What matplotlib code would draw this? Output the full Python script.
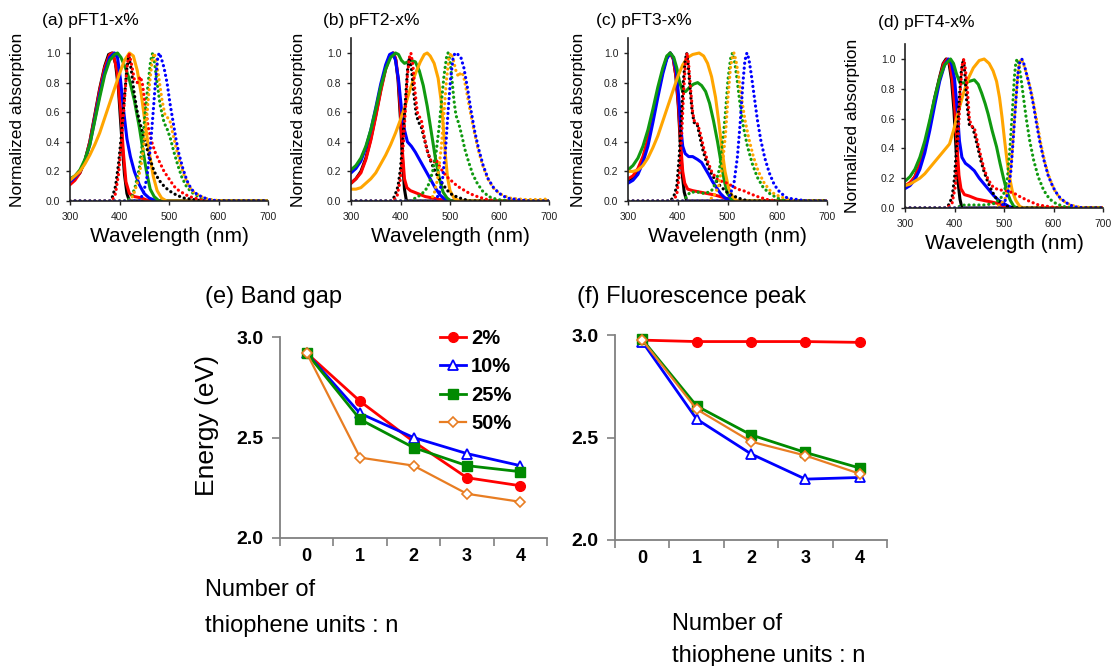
import matplotlib
matplotlib.use("Agg")
import matplotlib.pyplot as plt

plt.rcParams['font.family'] = ['Liberation Sans', 'DejaVu Sans']

# ---------------- spectra (wavelength nm, normalized value) ----------------
# (a) pFT1-x%
a_abs_black = [(300, .12), (310, .15), (320, .19), (330, .27), (340, .4), (350, .58), (360, .76), (370, .91), (378, .99), (385, 1.0), (392, .93), (398, .75), (404, .45), (410, .18), (415, .05), (420, 0), (700, 0)]
a_abs_red = [(300, .11), (310, .14), (320, .19), (330, .27), (340, .4), (350, .57), (360, .75), (370, .9), (380, .99), (387, 1.0), (395, .88), (402, .62), (408, .32), (413, .13), (420, .05), (430, .03), (445, .02), (460, 0), (700, 0)]
a_abs_blue = [(300, .13), (310, .16), (320, .2), (330, .27), (340, .38), (350, .55), (360, .72), (370, .87), (380, .97), (390, 1.0), (396, .97), (402, .82), (408, .62), (415, .42), (422, .3), (430, .2), (440, .11), (450, .05), (460, .02), (475, 0), (700, 0)]
a_abs_green = [(300, .15), (310, .17), (320, .21), (330, .28), (340, .38), (350, .54), (360, .7), (370, .85), (380, .95), (390, .99), (396, 1.0), (403, .97), (412, .9), (420, .82), (430, .68), (440, .5), (448, .33), (455, .19), (462, .08), (470, .03), (480, 0), (700, 0)]
a_abs_orange = [(300, .14), (310, .17), (320, .2), (330, .25), (340, .31), (350, .38), (360, .46), (370, .56), (380, .66), (390, .76), (400, .86), (410, .95), (420, 1.0), (428, .98), (436, .88), (444, .72), (452, .52), (460, .33), (468, .17), (476, .07), (485, .02), (495, 0), (700, 0)]
a_fl_black = [(300, 0), (380, 0), (386, .03), (392, .1), (398, .25), (404, .45), (410, .7), (415, .9), (419, .98), (424, .88), (430, .72), (436, .6), (442, .52), (450, .42), (460, .3), (470, .2), (480, .14), (490, .1), (500, .07), (515, .04), (530, .02), (550, .01), (570, 0), (700, 0)]
a_fl_red = [(300, 0), (385, 0), (392, .05), (398, .18), (404, .4), (410, .68), (415, .9), (419, 1.0), (424, .93), (430, .82), (436, .8), (442, .84), (446, .8), (452, .65), (458, .5), (465, .4), (472, .33), (480, .27), (490, .2), (500, .15), (510, .1), (520, .07), (535, .04), (550, .02), (570, .01), (600, 0), (700, 0)]
a_fl_green = [(300, 0), (415, 0), (425, .03), (432, .1), (440, .22), (446, .38), (452, .6), (458, .8), (463, .95), (467, 1.0), (471, .93), (476, .8), (482, .65), (490, .53), (497, .48), (503, .42), (510, .33), (518, .24), (526, .16), (535, .1), (545, .06), (560, .03), (580, .01), (600, 0), (700, 0)]
a_fl_orange = [(300, 0), (420, 0), (428, .04), (436, .12), (444, .25), (450, .4), (456, .6), (461, .8), (466, .95), (470, 1.0), (474, .95), (480, .82), (486, .68), (492, .58), (498, .56), (503, .53), (508, .45), (515, .35), (522, .26), (530, .18), (540, .1), (550, .06), (565, .03), (580, .01), (610, 0), (700, 0)]
a_fl_blue = [(300, 0), (440, 0), (448, .05), (455, .15), (462, .35), (468, .6), (473, .82), (477, .96), (480, 1.0), (484, .97), (490, .9), (496, .8), (502, .66), (508, .54), (514, .42), (520, .32), (528, .22), (536, .14), (545, .08), (555, .05), (565, .03), (580, .01), (600, 0), (700, 0)]

# (b) pFT2-x%
b_abs_black = [(300, .12), (310, .15), (320, .2), (330, .29), (340, .42), (350, .58), (360, .75), (370, .9), (378, .98), (385, 1.0), (390, .96), (395, .82), (400, .55), (404, .28), (408, .08), (412, 0), (700, 0)]
b_abs_red = [(300, .12), (310, .15), (320, .19), (330, .28), (340, .41), (350, .57), (360, .74), (370, .89), (379, .98), (386, 1.0), (391, .95), (396, .8), (400, .6), (404, .33), (408, .15), (413, .09), (420, .07), (435, .05), (450, .03), (465, .02), (480, .01), (495, 0), (700, 0)]
b_abs_blue = [(300, .19), (310, .22), (320, .27), (330, .36), (340, .48), (350, .63), (360, .79), (370, .92), (378, .99), (384, 1.0), (390, .95), (396, .82), (402, .62), (408, .48), (414, .4), (422, .37), (430, .33), (440, .27), (450, .21), (460, .15), (470, .09), (480, .04), (490, .01), (500, 0), (700, 0)]
b_abs_green = [(300, .21), (310, .24), (320, .29), (330, .37), (340, .48), (350, .62), (360, .77), (370, .89), (380, .97), (390, 1.0), (396, .99), (402, .95), (408, .93), (415, .94), (422, .95), (430, .94), (438, .88), (446, .78), (454, .64), (462, .47), (470, .3), (478, .16), (486, .06), (494, .02), (502, 0), (700, 0)]
b_abs_orange = [(300, .08), (310, .08), (320, .09), (330, .12), (340, .15), (350, .19), (360, .25), (370, .31), (380, .38), (390, .46), (400, .55), (410, .65), (420, .76), (430, .86), (440, .94), (448, .99), (454, 1.0), (460, .98), (468, .93), (476, .83), (482, .68), (487, .48), (491, .3), (495, .16), (500, .07), (508, .02), (520, 0), (700, 0)]
b_fl_black = [(300, 0), (380, 0), (388, .03), (395, .1), (400, .22), (405, .42), (410, .68), (414, .88), (418, .97), (422, .9), (427, .72), (432, .58), (437, .53), (442, .5), (448, .42), (455, .33), (462, .26), (470, .2), (478, .15), (486, .11), (495, .07), (505, .04), (520, .02), (540, 0), (700, 0)]
b_fl_red = [(300, 0), (385, 0), (393, .03), (400, .15), (405, .35), (410, .62), (414, .85), (418, .97), (421, 1.0), (425, .92), (429, .75), (434, .6), (438, .57), (442, .55), (447, .45), (453, .35), (460, .28), (467, .26), (472, .28), (478, .24), (485, .2), (495, .16), (505, .13), (515, .1), (525, .08), (540, .05), (555, .03), (575, .01), (600, 0), (700, 0)]
b_fl_green = [(300, 0), (420, 0), (430, .02), (440, .04), (450, .07), (458, .12), (465, .2), (472, .33), (478, .5), (483, .68), (488, .85), (493, .97), (496, 1.0), (500, .95), (504, .82), (508, .68), (512, .58), (518, .52), (524, .44), (530, .35), (538, .26), (546, .18), (555, .12), (565, .07), (578, .03), (595, .01), (620, 0), (700, 0)]
b_fl_orange = [(300, 0), (460, 0), (468, .05), (475, .15), (482, .35), (488, .6), (493, .82), (498, .97), (502, 1.0), (507, .95), (512, .88), (517, .84), (522, .87), (527, .85), (533, .75), (540, .62), (548, .48), (556, .36), (565, .25), (575, .16), (587, .09), (600, .05), (620, .02), (650, .01), (690, .01), (700, .02)]
b_fl_blue = [(300, 0), (470, 0), (478, .05), (485, .15), (491, .35), (496, .6), (501, .82), (506, .96), (510, 1.0), (516, .99), (522, .97), (528, .9), (535, .77), (542, .62), (550, .47), (558, .35), (567, .24), (577, .15), (588, .09), (600, .05), (615, .02), (635, .01), (660, 0), (700, 0)]

# (c) pFT3-x%
c_abs_black = [(300, .13), (310, .15), (320, .2), (330, .28), (340, .4), (350, .56), (360, .73), (370, .88), (378, .97), (385, 1.0), (391, .96), (396, .85), (401, .65), (405, .4), (409, .18), (413, .06), (418, 0), (700, 0)]
c_abs_red = [(300, .15), (310, .17), (320, .22), (330, .3), (340, .42), (350, .57), (360, .74), (370, .88), (378, .97), (385, 1.0), (391, .96), (397, .83), (402, .62), (406, .38), (410, .2), (414, .12), (420, .08), (430, .07), (445, .06), (460, .05), (475, .04), (485, .03), (495, .02), (505, .01), (515, 0), (700, 0)]
c_abs_blue = [(300, .12), (310, .14), (320, .18), (330, .26), (340, .37), (350, .53), (360, .7), (370, .86), (378, .96), (385, 1.0), (391, .97), (397, .88), (402, .7), (406, .5), (410, .37), (415, .32), (422, .3), (430, .3), (440, .28), (448, .26), (455, .22), (462, .18), (470, .13), (478, .09), (486, .05), (495, .02), (505, .01), (515, 0), (700, 0)]
c_abs_green = [(300, .21), (310, .24), (320, .29), (330, .37), (340, .48), (350, .62), (360, .77), (370, .9), (378, .98), (385, 1.0), (392, .97), (398, .9), (404, .8), (410, .74), (416, .74), (424, .77), (432, .79), (440, .8), (448, .78), (456, .74), (464, .66), (472, .54), (480, .4), (487, .26), (494, .13), (500, .05), (508, .01), (515, 0), (700, 0)]
c_abs_orange = [(300, .2), (310, .2), (320, .21), (330, .24), (340, .29), (350, .36), (360, .44), (370, .54), (380, .64), (390, .74), (400, .84), (410, .92), (420, .97), (430, .99), (443, 1.0), (452, .98), (460, .93), (468, .84), (476, .7), (483, .52), (489, .35), (495, .2), (502, .09), (510, .03), (520, 0), (700, 0)]
c_fl_black = [(300, 0), (385, 0), (392, .03), (398, .1), (403, .3), (407, .55), (411, .8), (415, .95), (418, 1.0), (421, .92), (425, .75), (429, .6), (433, .53), (439, .52), (444, .44), (450, .35), (457, .27), (465, .2), (474, .15), (483, .11), (492, .08), (502, .05), (515, .03), (530, .01), (545, 0), (700, 0)]
c_fl_red = [(300, 0), (390, 0), (398, .04), (404, .2), (408, .45), (412, .75), (416, .95), (419, 1.0), (422, .92), (426, .75), (430, .6), (434, .53), (440, .52), (446, .45), (452, .36), (460, .27), (468, .2), (478, .15), (490, .13), (500, .12), (510, .1), (520, .08), (532, .07), (545, .05), (560, .03), (580, .01), (600, 0), (700, 0)]
c_fl_green = [(300, 0), (410, 0), (418, .03), (425, .06), (440, .06), (455, .05), (468, .07), (476, .12), (484, .22), (490, .38), (496, .6), (501, .82), (506, .96), (510, 1.0), (514, .95), (519, .83), (525, .66), (532, .5), (540, .37), (550, .25), (560, .16), (572, .09), (585, .05), (600, .02), (620, 0), (700, 0)]
c_fl_orange = [(300, 0), (460, 0), (472, .03), (482, .1), (490, .25), (496, .45), (501, .7), (506, .9), (510, .98), (513, 1.0), (517, .95), (522, .85), (528, .7), (535, .55), (543, .42), (552, .3), (562, .2), (574, .12), (588, .06), (605, .03), (625, .01), (645, 0), (700, 0)]
c_fl_blue = [(300, 0), (495, 0), (505, .04), (513, .12), (520, .3), (526, .55), (531, .8), (535, .95), (539, 1.0), (543, .96), (548, .85), (554, .7), (560, .55), (567, .41), (575, .29), (584, .19), (594, .11), (605, .06), (620, .02), (640, .01), (660, 0), (700, 0)]

# (d) pFT4-x%
d_abs_black = [(300, .14), (310, .16), (320, .21), (330, .29), (340, .41), (350, .57), (360, .74), (370, .88), (377, .97), (383, 1.0), (389, .97), (394, .86), (399, .65), (403, .4), (407, .18), (411, .06), (415, 0), (700, 0)]
d_abs_red = [(300, .15), (310, .17), (320, .21), (330, .29), (340, .4), (350, .55), (360, .72), (370, .87), (378, .97), (385, 1.0), (391, .96), (396, .85), (401, .65), (405, .42), (409, .22), (413, .13), (420, .09), (430, .08), (445, .06), (460, .05), (475, .04), (488, .03), (500, .01), (512, 0), (700, 0)]
d_abs_blue = [(300, .13), (310, .15), (320, .19), (330, .26), (340, .37), (350, .52), (360, .69), (370, .85), (380, .96), (388, 1.0), (394, .97), (400, .87), (405, .68), (410, .45), (415, .34), (422, .3), (430, .28), (440, .25), (450, .2), (460, .16), (470, .12), (480, .08), (490, .05), (500, .03), (510, .01), (520, 0), (700, 0)]
d_abs_green = [(300, .18), (310, .21), (320, .26), (330, .34), (340, .45), (350, .59), (360, .74), (370, .87), (380, .96), (392, 1.0), (398, .97), (404, .9), (411, .84), (420, .84), (430, .85), (440, .86), (448, .83), (455, .77), (462, .7), (468, .63), (476, .52), (485, .41), (492, .3), (499, .2), (506, .11), (513, .05), (520, .01), (528, 0), (700, 0)]
d_abs_orange = [(300, .15), (310, .16), (320, .18), (330, .2), (340, .23), (350, .27), (360, .31), (370, .35), (380, .39), (390, .43), (398, .52), (408, .65), (418, .77), (428, .87), (438, .94), (450, .99), (460, 1.0), (470, .97), (478, .92), (485, .85), (491, .74), (496, .61), (501, .46), (506, .32), (511, .21), (517, .11), (524, .05), (532, .01), (540, 0), (700, 0)]
d_fl_black = [(300, 0), (380, 0), (388, .02), (395, .07), (400, .2), (405, .45), (410, .75), (414, .93), (418, 1.0), (421, .9), (425, .7), (430, .56), (436, .55), (440, .5), (446, .42), (453, .32), (460, .24), (468, .17), (476, .11), (485, .06), (495, .03), (508, .01), (520, 0), (700, 0)]
d_fl_red = [(300, 0), (385, 0), (395, .03), (402, .15), (407, .45), (412, .8), (416, .97), (419, 1.0), (422, .93), (426, .8), (430, .6), (434, .55), (440, .54), (446, .45), (453, .35), (460, .26), (468, .19), (478, .14), (490, .12), (500, .12), (510, .11), (520, .1), (530, .08), (542, .06), (555, .04), (570, .02), (590, .01), (610, 0), (700, 0)]
d_fl_green = [(300, 0), (400, 0), (410, .01), (420, .02), (440, .02), (460, .02), (480, .03), (492, .06), (500, .1), (507, .2), (512, .4), (517, .65), (521, .88), (524, .98), (527, 1.0), (530, .96), (534, .88), (539, .75), (545, .6), (552, .45), (560, .32), (569, .21), (580, .12), (592, .06), (605, .03), (620, .01), (640, 0), (700, 0)]
d_fl_orange = [(300, 0), (480, 0), (492, .02), (502, .06), (510, .15), (516, .35), (521, .6), (526, .82), (530, .95), (534, 1.0), (538, .98), (543, .93), (549, .86), (555, .78), (561, .68), (568, .55), (575, .42), (583, .3), (592, .2), (602, .12), (614, .06), (628, .03), (645, .01), (665, 0), (700, 0)]
d_fl_blue = [(300, 0), (490, 0), (500, .03), (508, .1), (514, .25), (519, .48), (524, .72), (528, .9), (532, .98), (536, 1.0), (541, .96), (547, .88), (553, .8), (559, .7), (565, .58), (572, .45), (580, .33), (589, .22), (599, .14), (610, .08), (623, .04), (640, .01), (660, 0), (700, 0)]

spectra_titles = ["(a) pFT1-x%", "(b) pFT2-x%", "(c) pFT3-x%", "(d) pFT4-x%"]
wl_ticks = [300, 400, 500, 600, 700]
abs_ticks = [0.0, 0.2, 0.4, 0.6, 0.8, 1.0]

# ---------------- band gap / fluorescence peak ----------------
n_units = [0, 1, 2, 3, 4]
series_labels = ["2%", "10%", "25%", "50%"]
gap_2 = [2.92, 2.68, 2.48, 2.30, 2.26]
gap_10 = [2.92, 2.62, 2.50, 2.42, 2.36]
gap_25 = [2.92, 2.59, 2.45, 2.36, 2.33]
gap_50 = [2.92, 2.40, 2.36, 2.22, 2.18]
fl_2 = [2.975, 2.968, 2.968, 2.968, 2.964]
fl_10 = [2.968, 2.59, 2.42, 2.297, 2.305]
fl_25 = [2.979, 2.654, 2.513, 2.427, 2.351]
fl_50 = [2.976, 2.638, 2.48, 2.412, 2.323]
energy_ticks = [2.0, 2.5, 3.0]

W, H = 1115, 666
fig = plt.figure(figsize=(W / 100, H / 100), dpi=100)


def fx(px):
    return px / W


def fy(py):
    return 1 - py / H


GREEN = '#109a10'
ORANGE = '#ffa500'
colors = ['black', 'red', 'blue', GREEN, ORANGE]

panels = [
    ([a_abs_black, a_abs_red, a_abs_blue, a_abs_green, a_abs_orange],
     [a_fl_black, a_fl_red, a_fl_green, a_fl_orange, a_fl_blue]),
    ([b_abs_black, b_abs_red, b_abs_blue, b_abs_green, b_abs_orange],
     [b_fl_black, b_fl_red, b_fl_green, b_fl_orange, b_fl_blue]),
    ([c_abs_black, c_abs_red, c_abs_blue, c_abs_green, c_abs_orange],
     [c_fl_black, c_fl_red, c_fl_green, c_fl_orange, c_fl_blue]),
    ([d_abs_black, d_abs_red, d_abs_blue, d_abs_green, d_abs_orange],
     [d_fl_black, d_fl_red, d_fl_green, d_fl_orange, d_fl_blue]),
]
fl_colors = ['black', 'red', GREEN, ORANGE, 'blue']

# pixel boxes: left, right, y of 0.0, y of 1.0
boxes = [(70, 268, 201, 53), (351, 549, 201, 53), (628, 827, 201, 53), (905, 1103, 208, 59)]
title_pos = [(42, 20), (323, 20), (596, 20), (878, 23)]
ylab_x = [18, 298, 578, 853]

for i, (abs_curves, fl_curves) in enumerate(panels):
    l, r, y0, y1 = boxes[i]
    top = y0 - (y0 - y1) * 1.1
    ax = fig.add_axes([fx(l), fy(y0), fx(r - l), (y0 - top) / H])
    for cur, col in zip(abs_curves, colors):
        ax.plot([p[0] for p in cur], [p[1] for p in cur], color=col, lw=2.2,
                solid_capstyle='round')
    for cur, col in zip(fl_curves, fl_colors):
        ax.plot([p[0] for p in cur], [p[1] for p in cur], color=col, lw=2.3,
                linestyle=(0, (0.05, 1.5)), dash_capstyle='round')
    ax.set_xlim(300, 700)
    ax.set_ylim(0, 1.1)
    ax.set_xticks(wl_ticks)
    ax.set_yticks(abs_ticks)
    ax.set_yticklabels(["%.1f" % v for v in abs_ticks])
    for s in ['top', 'right']:
        ax.spines[s].set_visible(False)
    for s in ['left', 'bottom']:
        ax.spines[s].set_linewidth(1.2)
        ax.spines[s].set_color('#222222')
    ax.tick_params(labelsize=7.5, length=3, width=1, pad=4, colors='#222222')
    ax.tick_params(axis='x', pad=5)
    fig.text(fx(title_pos[i][0]), fy(title_pos[i][1]), spectra_titles[i],
             fontsize=12.5, va='center', ha='left')
    fig.text(fx(ylab_x[i]), fy((y0 + top) / 2), "Normalized absorption",
             fontsize=12.5, rotation=90, va='center', ha='center')
    fig.text(fx((l + r) / 2), fy(y0 + 35), "Wavelength (nm)",
             fontsize=15, va='center', ha='center')

# bottom panels
GRAY = '#808080'
ORANGE2 = '#e87d22'
styles = [
    dict(color='#ff0000', marker='o', ms=7, lw=2.0),
    dict(color='#0000ff', marker='^', ms=7.5, lw=2.0, mfc='white', mew=1.3),
    dict(color='#008a00', marker='s', ms=6.5, lw=2.0),
    dict(color=ORANGE2, marker='D', ms=5.5, lw=1.6, mfc='white', mew=1.2),
]


def energy_panel(rect, data):
    ax = fig.add_axes(rect)
    for vals, st, lab in zip(data, styles, series_labels):
        ln, = ax.plot(n_units, vals, label=lab, **st)
        ln.set_clip_on(False)
    ax.set_xlim(-0.5, 4.5)
    ax.set_ylim(2.0, 3.0)
    ax.set_yticks(energy_ticks)
    ax.set_yticklabels(["%.1f" % v for v in energy_ticks])
    ax.set_xticks(n_units)
    ax.set_xticklabels([str(v) for v in n_units])
    ax.set_xticks([v - 0.5 for v in n_units] + [4.5], minor=True)
    for s in ['top', 'right']:
        ax.spines[s].set_visible(False)
    for s in ['left', 'bottom']:
        ax.spines[s].set_color(GRAY)
        ax.spines[s].set_linewidth(1.3)
    ax.tick_params(axis='x', which='major', length=0, pad=7, labelsize=13)
    ax.tick_params(axis='x', which='minor', length=6, width=1.2, color=GRAY)
    ax.tick_params(axis='y', length=6, width=1.2, color=GRAY, pad=6, labelsize=14)
    for t in ax.get_xticklabels() + ax.get_yticklabels():
        t.set_fontweight('bold')
    return ax


ax_e = energy_panel([fx(280), fy(538), fx(267), 201 / H], [gap_2, gap_10, gap_25, gap_50])
ax_f = energy_panel([fx(615), fy(540), fx(272), 205 / H], [fl_2, fl_10, fl_25, fl_50])

ax_e.legend(loc='upper left', bbox_to_anchor=(fx(440), fy(329)), bbox_transform=fig.transFigure,
            frameon=False, prop=dict(weight='bold', size=14.5), handlelength=1.3,
            handletextpad=0.25, labelspacing=0.47, borderpad=0, borderaxespad=0)

fig.text(fx(205), fy(297), "(e) Band gap", fontsize=17, va='center', ha='left')
fig.text(fx(577), fy(297), "(f) Fluorescence peak", fontsize=17, va='center', ha='left')
fig.text(fx(207), fy(425), "Energy (eV)", fontsize=19, rotation=90, va='center', ha='center')
fig.text(fx(205), fy(590), "Number of", fontsize=17, va='center', ha='left')
fig.text(fx(205), fy(626), "thiophene units : n", fontsize=17, va='center', ha='left')
fig.text(fx(672), fy(624), "Number of", fontsize=17, va='center', ha='left')
fig.text(fx(672), fy(656), "thiophene units : n", fontsize=17, va='center', ha='left')

fig.savefig("out.png", dpi=100)
